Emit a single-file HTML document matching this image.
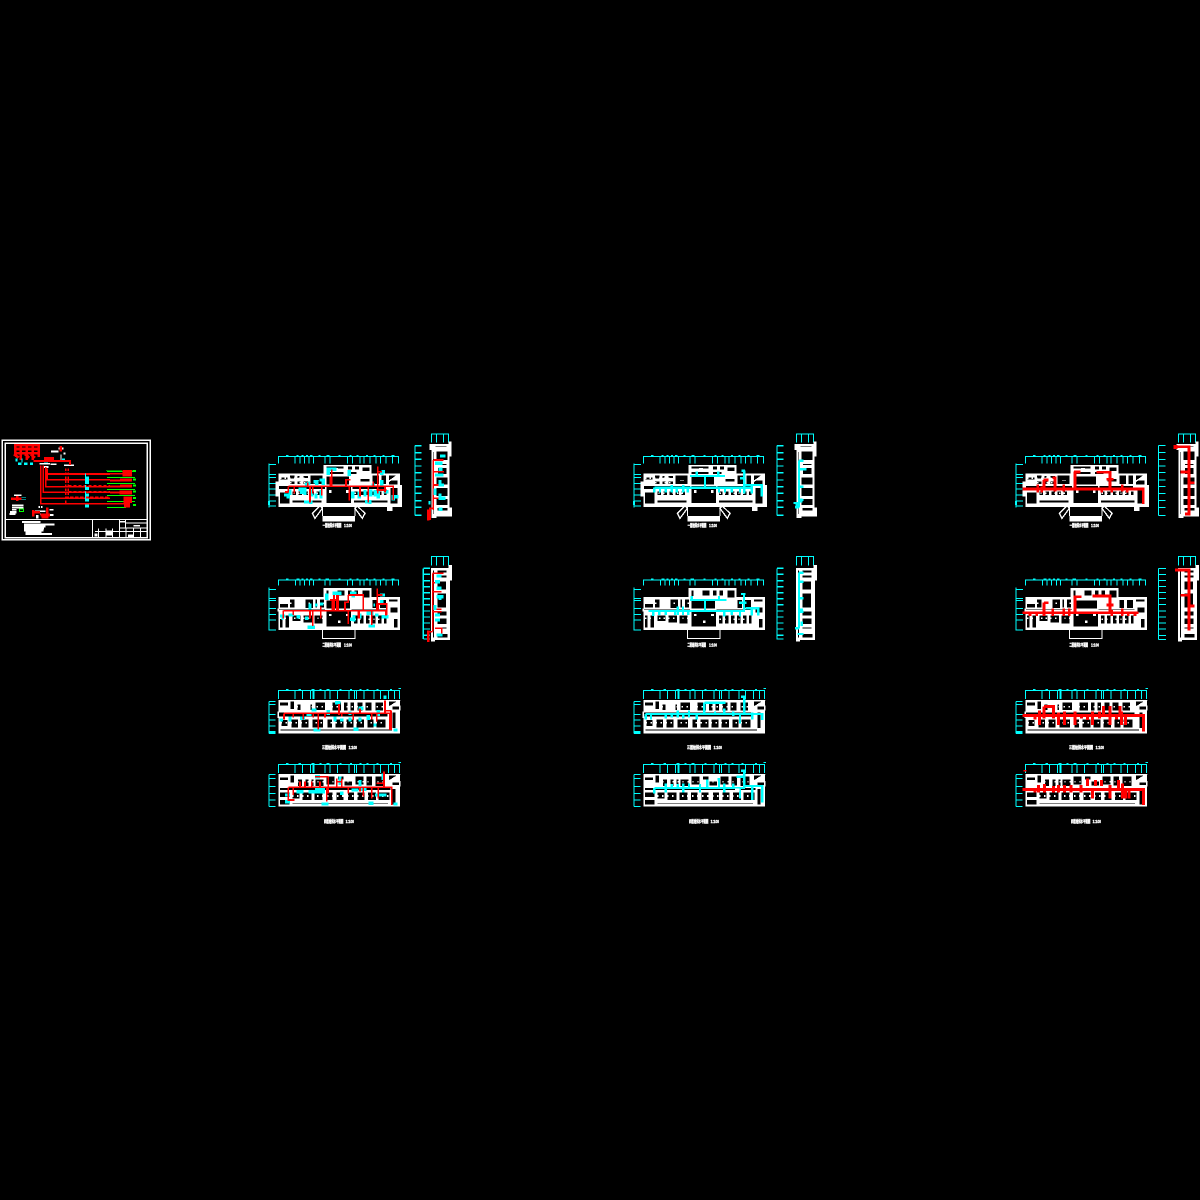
<!DOCTYPE html>
<html lang="zh">
<head>
<meta charset="utf-8">
<title>给排水施工图</title>
<style>
html,body{margin:0;padding:0;background:#000;width:1200px;height:1200px;overflow:hidden}
svg{display:block}
text{font-family:"Liberation Sans","Noto Sans CJK SC",sans-serif;font-weight:700;fill:#fff;stroke:#fff;stroke-width:1.2}
path[stroke="#f00"][stroke-width="3"]{stroke-width:5}
path[stroke="#f00"][stroke-width="5"]{stroke-width:8}
path[stroke="#f00"][stroke-width="6"]{stroke-width:9}
path[stroke="#0ff"][stroke-width="5"]{stroke-width:7}
path[stroke="#0ff"][stroke-width="6"]{stroke-width:10}
g[fill="#000"]{stroke:#fff;stroke-width:4}
</style>
</head>
<body>
<svg xmlns="http://www.w3.org/2000/svg" xmlns:xlink="http://www.w3.org/1999/xlink" width="1200" height="1200" viewBox="0 0 1200 1200" shape-rendering="crispEdges">
<defs>
<!-- ROW 1 WIDE PLAN -->
<g id="planA">
  <path d="M55 100V80H415V100M105 80V100M120 80V100M133 80V100M147 80V100M160 80V100M195 80V100M210 80V100M262 80V100M278 80V100M300 80V100M312 80V100M330 80V100M348 80V100M362 80V100M378 80V100M398 80V100M78 76H86M110 76H116M125 76H131M138 76H144M150 76H158M175 76H181M200 76H208M235 76H241M268 76H274M290 76H296M318 76H324M340 76H346M368 76H374M395 76H403" fill="none" stroke="#0ff" stroke-width="3"/>
  <path d="M27 100V232M27 103H48M27 133H48M27 142H48M27 160H48M27 177H48M27 195H48M27 213H48M27 228H48" fill="none" stroke="#0ff" stroke-width="3"/>
  <rect x="24" y="213" width="6" height="12" fill="#0ff"/>
  <path d="M55 130H190V105H335V130H420V165H426V231H398V243H381V231H55V200H46V154H55Z" fill="#fff"/>
  <g fill="#000">
    <rect x="150" y="134" width="40" height="30"/><rect x="60" y="140" width="25" height="10"/><rect x="88" y="135" width="17" height="12"/><rect x="88" y="152" width="17" height="12"/><rect x="110" y="136" width="10" height="10"/><rect x="110" y="152" width="14" height="12"/><rect x="128" y="136" width="18" height="10"/><rect x="128" y="152" width="18" height="12"/>
    <rect x="55" y="166" width="325" height="13"/>
    <rect x="58" y="185" width="33" height="38"/>
    <rect x="96" y="183" width="14" height="14"/><rect x="114" y="183" width="14" height="14"/><rect x="132" y="183" width="14" height="14"/><rect x="150" y="183" width="14" height="14"/><rect x="168" y="183" width="14" height="14"/>
    <rect x="96" y="210" width="90" height="10"/><rect x="96" y="197" width="3" height="13"/>
    <rect x="197" y="138" width="72" height="28"/><rect x="197" y="166" width="78" height="55"/>
    <rect x="197" y="108" width="56" height="10"/><rect x="197" y="124" width="56" height="10"/><rect x="262" y="108" width="16" height="12"/><rect x="283" y="108" width="16" height="12"/><rect x="305" y="110" width="25" height="15"/><rect x="262" y="124" width="30" height="10"/><rect x="300" y="145" width="30" height="12"/>
    <rect x="280" y="183" width="14" height="14"/><rect x="298" y="183" width="14" height="14"/><rect x="316" y="183" width="14" height="14"/><rect x="334" y="183" width="14" height="14"/><rect x="352" y="183" width="14" height="14"/><rect x="370" y="183" width="12" height="14"/>
    <rect x="280" y="210" width="104" height="10"/>
    <rect x="335" y="134" width="24" height="30"/><rect x="362" y="134" width="18" height="30"/><rect x="385" y="150" width="30" height="15"/><rect x="390" y="172" width="25" height="50"/>
    <path d="M385 134H415L385 155Z"/>
  </g>
  <g fill="#fff"><rect x="207" y="180" width="7" height="9"/><rect x="258" y="180" width="8" height="9"/><rect x="273" y="153" width="12" height="14"/><rect x="310" y="128" width="9" height="9"/><rect x="222" y="114" width="12" height="4"/><rect x="165" y="150" width="12" height="2"/></g>
  <path d="M100 190H182M284 190H382M60 145H146M90 158H146" stroke="#fff" stroke-width="5" stroke-dasharray="4 10"/>
  <path d="M157 250L180 228L187 235L165 265ZM315 250L292 228L285 235L307 265Z" fill="none" stroke="#fff" stroke-width="4"/>
  <rect x="187" y="258" width="98" height="17" fill="#fff"/>
  <path d="M187 228V258M285 228V258" stroke="#fff" stroke-width="3"/>
  <path d="M210 224H265" stroke="#fff" stroke-width="5" stroke-dasharray="3 3"/>
  <text x="188" y="291" font-size="13" textLength="56" lengthAdjust="spacingAndGlyphs">一层给排水平面图</text>
  <text x="252" y="291" font-size="13" textLength="24" lengthAdjust="spacingAndGlyphs">1:100</text>
</g>
<!-- ROW 1 TALL -->
<g id="tallA">
  <path d="M515 38V12H565V38M530 12V38M550 12V38" fill="none" stroke="#0ff" stroke-width="3"/>
  <path d="M510 42H566V35H575V80H568V232H576V260H530V264H515V60H508V44Z" fill="#fff"/>
  <g fill="#000">
    <rect x="527" y="62" width="38" height="30"/><rect x="532" y="100" width="30" height="7"/><rect x="532" y="112" width="30" height="22"/><rect x="527" y="140" width="38" height="26"/><rect x="527" y="172" width="38" height="28"/><rect x="527" y="205" width="38" height="22"/><rect x="530" y="232" width="35" height="12"/>
    <rect x="517" y="64" width="6" height="190"/>
    <rect x="524" y="46" width="38" height="6"/>
  </g>
</g>
<!-- ROW 2 WIDE -->
<g id="planB">
  <path d="M55 107V90H415V107M107 90V107M120 90V107M133 90V107M148 90V107M160 90V107M195 90V107M210 90V107M262 90V107M278 90V107M300 90V107M312 90V107M330 90V107M348 90V107M362 90V107M378 90V107M398 90V107M78 87H86M110 87H118M125 87H131M138 87H144M150 87H158M175 87H181M197 87H207M235 87H241M268 87H274M290 87H296M318 87H324M340 87H346M368 87H374M395 87H403" fill="none" stroke="#0ff" stroke-width="3"/>
  <path d="M27 113V241M27 118H48M27 145H48M27 151H48M27 175H48M27 193H48M27 210H48M27 240H48" fill="none" stroke="#0ff" stroke-width="3"/>
  <path d="M55 141H190V114H335V141H420V240H55Z" fill="#fff"/>
  <g fill="#000">
    <rect x="58" y="160" width="28" height="15"/><rect x="88" y="146" width="17" height="28"/><rect x="135" y="146" width="26" height="30"/><rect x="165" y="146" width="8" height="28"/><rect x="178" y="146" width="16" height="28"/>
    <rect x="55" y="177" width="330" height="5"/>
    <rect x="58" y="195" width="12" height="40"/><rect x="74" y="195" width="15" height="40"/><rect x="95" y="195" width="28" height="20"/><rect x="128" y="195" width="30" height="25"/><rect x="162" y="195" width="28" height="28"/>
    <rect x="197" y="150" width="75" height="28"/><rect x="197" y="182" width="78" height="50"/>
    <rect x="197" y="120" width="10" height="20"/><rect x="230" y="120" width="25" height="18"/><rect x="262" y="120" width="14" height="18"/><rect x="282" y="120" width="14" height="18"/><rect x="305" y="120" width="25" height="25"/>
    <rect x="280" y="195" width="14" height="28"/><rect x="298" y="195" width="14" height="28"/><rect x="316" y="195" width="14" height="28"/><rect x="334" y="195" width="14" height="28"/><rect x="352" y="195" width="14" height="28"/><rect x="370" y="195" width="12" height="28"/><rect x="400" y="205" width="15" height="30"/>
    <rect x="335" y="148" width="18" height="28"/><rect x="358" y="148" width="22" height="28"/><rect x="385" y="146" width="30" height="10"/><rect x="390" y="170" width="25" height="20"/>
  </g>
  <path d="M60 205H190M284 208H382M90 160H194" stroke="#fff" stroke-width="5" stroke-dasharray="4 10"/>
  <rect x="207" y="192" width="7" height="6" fill="#fff"/><rect x="258" y="192" width="9" height="6" fill="#fff"/><rect x="234" y="212" width="7" height="7" fill="#fff"/><rect x="273" y="155" width="25" height="24" fill="#fff"/>
  <path d="M187 240V265H285V240" fill="none" stroke="#fff" stroke-width="3"/>
  <text x="187" y="289" font-size="13" textLength="56" lengthAdjust="spacingAndGlyphs">二层给排水平面图</text>
  <text x="252" y="289" font-size="13" textLength="24" lengthAdjust="spacingAndGlyphs">1:100</text>
</g>
<!-- ROW 2 TALL -->
<g id="tallB">
  <path d="M515 46V20H565V46M530 20V46M550 20V46" fill="none" stroke="#0ff" stroke-width="3"/>
  <path d="M513 54H566V45H576V92H570V270H525V275H513Z" fill="#fff"/>
  <g fill="#000">
    <rect x="530" y="60" width="32" height="10"/><rect x="530" y="75" width="32" height="10"/><rect x="530" y="92" width="30" height="28"/><rect x="530" y="128" width="30" height="46"/><rect x="530" y="182" width="32" height="16"/><rect x="530" y="204" width="32" height="20"/><rect x="530" y="230" width="32" height="8"/><rect x="530" y="250" width="35" height="14"/>
    <rect x="517" y="60" width="7" height="205"/>
  </g>
</g>
<!-- ROW 3 WIDE -->
<g id="planC">
  <path d="M55 57V31H418V57M105 31V57M127 31V57M152 31V57M162 31V57M195 31V57M210 31V57M232 31V57M267 31V57M283 31V57M290 31V57M312 31V57M342 31V57M362 31V57M385 31V57M403 31V57M78 28H86M115 28H123M155 28H163M178 28H184M200 28H208M238 28H244M270 28H276M298 28H304M320 28H326M350 28H356M390 28H396M415 26H423" fill="none" stroke="#0ff" stroke-width="3"/>
  <rect x="158" y="31" width="5" height="26" fill="#0ff"/>
  <path d="M27 65V160M27 65H47M27 73H47M27 103H47M27 120H47M27 138H47M27 155H47M27 160H47" fill="none" stroke="#0ff" stroke-width="3"/>
  <rect x="27" y="155" width="20" height="6" fill="#0ff"/>
  <rect x="55" y="60" width="365" height="100" fill="#fff"/>
  <g fill="#000">
    <rect x="58" y="66" width="28" height="12"/><rect x="90" y="63" width="14" height="26"/>
    <rect x="110" y="72" width="14" height="20"/><rect x="150" y="72" width="8" height="20"/><rect x="165" y="66" width="32" height="26"/><rect x="215" y="66" width="30" height="28"/><rect x="250" y="66" width="14" height="28"/><rect x="270" y="66" width="14" height="28"/><rect x="290" y="66" width="20" height="28"/><rect x="315" y="66" width="22" height="28"/><rect x="345" y="66" width="26" height="28"/><rect x="395" y="78" width="24" height="12"/>
    <rect x="55" y="96" width="330" height="16"/>
    <rect x="62" y="118" width="22" height="22"/><rect x="92" y="116" width="24" height="28"/><rect x="122" y="116" width="26" height="28"/><rect x="155" y="116" width="36" height="28"/><rect x="200" y="116" width="18" height="28"/><rect x="224" y="116" width="28" height="28"/><rect x="258" y="116" width="24" height="28"/><rect x="288" y="116" width="26" height="28"/><rect x="320" y="116" width="22" height="28"/><rect x="348" y="116" width="30" height="28"/><rect x="396" y="96" width="12" height="50"/>
    <rect x="60" y="147" width="338" height="6"/>
    <path d="M385 63H416L385 82Z"/>
  </g>
  <path d="M62 128H378M110 80H372" stroke="#fff" stroke-width="5" stroke-dasharray="4 11"/>
  <text x="186" y="207" font-size="13" textLength="72" lengthAdjust="spacingAndGlyphs">三层给排水平面图</text>
  <text x="266" y="207" font-size="13" textLength="25" lengthAdjust="spacingAndGlyphs">1:100</text>
</g>
<!-- ROW 4 WIDE -->
<g id="planD">
  <path d="M55 279V253H418V279M105 253V279M127 253V279M152 253V279M162 253V279M195 253V279M210 253V279M232 253V279M267 253V279M283 253V279M290 253V279M312 253V279M342 253V279M362 253V279M385 253V279M403 253V279M78 250H86M115 250H123M155 250H163M178 250H184M200 250H208M238 250H244M270 250H276M298 250H304M320 250H326M350 250H356M390 250H396M415 248H423" fill="none" stroke="#0ff" stroke-width="3"/>
  <rect x="158" y="253" width="5" height="26" fill="#0ff"/>
  <path d="M27 283V380M27 283H47M27 295H47M27 320H47M27 340H47M27 360H47M27 379H47" fill="none" stroke="#0ff" stroke-width="3"/>
  <rect x="55" y="282" width="365" height="98" fill="#fff"/>
  <g fill="#000">
    <rect x="58" y="290" width="28" height="12"/><rect x="90" y="285" width="14" height="25"/><rect x="112" y="296" width="16" height="24"/><rect x="135" y="296" width="12" height="24"/><rect x="152" y="296" width="10" height="24"/><rect x="165" y="296" width="28" height="24"/><rect x="198" y="288" width="28" height="28"/><rect x="232" y="288" width="20" height="12"/><rect x="252" y="303" width="26" height="15"/><rect x="285" y="288" width="28" height="28"/><rect x="318" y="288" width="20" height="30"/><rect x="345" y="288" width="30" height="32"/><rect x="395" y="305" width="24" height="12"/>
    <rect x="58" y="322" width="335" height="10"/>
    <rect x="58" y="335" width="32" height="18"/><rect x="58" y="358" width="32" height="18"/><rect x="96" y="336" width="24" height="22"/><rect x="125" y="336" width="32" height="26"/><rect x="162" y="336" width="28" height="26"/><rect x="196" y="336" width="24" height="26"/><rect x="228" y="336" width="24" height="26"/><rect x="262" y="336" width="22" height="26"/><rect x="290" y="336" width="26" height="26"/><rect x="322" y="336" width="28" height="26"/><rect x="354" y="336" width="36" height="26"/><rect x="396" y="325" width="12" height="50"/>
    <rect x="96" y="367" width="290" height="6"/>
    <path d="M385 285H416L385 304Z"/>
  </g>
  <path d="M96 348H390M112 305H375" stroke="#fff" stroke-width="5" stroke-dasharray="4 11"/>
  <text x="192" y="429" font-size="13" textLength="58" lengthAdjust="spacingAndGlyphs">四层给排水平面图</text>
  <text x="257" y="429" font-size="13" textLength="25" lengthAdjust="spacingAndGlyphs">1:100</text>
</g>
</defs>

<rect width="1200" height="1200" fill="#000"/>

<!-- LEFT SHEET -->
<g transform="translate(0,435) scale(.33333)">
  <rect x="7" y="16" width="444" height="298" fill="none" stroke="#fff" stroke-width="4"/>
  <rect x="16" y="25" width="426" height="283" fill="none" stroke="#fff" stroke-width="4"/>
  <path d="M17 253H442M277 253V307M358 254V307M358 279H442M377 254V280M378 264H442M285 290H442M295 280V307M318 280V307M338 280V307M378 280V307M400 280V307M422 280V307" fill="none" stroke="#fff" stroke-width="3"/>
  <g fill="#fff"><rect x="320" y="287" width="16" height="14"/><rect x="400" y="270" width="20" height="5"/><rect x="360" y="258" width="15" height="4"/><rect x="384" y="298" width="16" height="8"/><rect x="284" y="296" width="8" height="8"/></g>
  <g fill="#fff"><rect x="66" y="258" width="56" height="6"/><rect x="72" y="266" width="92" height="5"/><rect x="72" y="272" width="65" height="5"/><rect x="72" y="278" width="60" height="5"/><rect x="72" y="284" width="58" height="5"/><rect x="76" y="290" width="48" height="4"/><rect x="76" y="294" width="80" height="6"/></g>
  <path d="M46 31H116V55H46ZM46 42H116M62 31V55M80 31V55M98 31V55M116 55V66M62 55V75M80 55V75M98 55V75" fill="none" stroke="#f00" stroke-width="5"/>
  <path d="M42 58L56 68M75 58L88 68M92 58L105 68" stroke="#f00" stroke-width="5"/>
  <g fill="#0ff"><rect x="47" y="70" width="5" height="10"/><rect x="54" y="82" width="10" height="8"/><rect x="72" y="82" width="10" height="8"/><rect x="90" y="82" width="9" height="8"/><rect x="64" y="70" width="4" height="12"/><rect x="132" y="70" width="12" height="12"/><rect x="186" y="70" width="9" height="6"/></g>
  <path d="M153 50H175M190 55H197M175 40H190" stroke="#fff" stroke-width="6"/>
  <path d="M183 58V78" stroke="#fff" stroke-width="3"/>
  <path d="M182 33V50" stroke="#f00" stroke-width="5"/>
  <rect x="132" y="66" width="30" height="15" fill="#f00"/>
  <path d="M118 86H150M152 88H170M192 91H222M130 96H146" stroke="#fff" stroke-width="5"/>
  <path d="M100 78H210V90M122 92V206H370M130 92V172H330M137 96V155H330M142 100V134H330M142 117H330M122 190H330" fill="none" stroke="#f00" stroke-width="3"/>
  <path d="M197 100V205M205 100V190" stroke="#f00" stroke-width="4" stroke-dasharray="8 4"/>
  <path d="M213 116H330M205 134H320M205 152H330M205 170H330M195 186H330" stroke="#f00" stroke-width="4" stroke-dasharray="10 5"/>
  <path d="M257 115V145M257 150V165M257 170V195" stroke="#0ff" stroke-width="3"/>
  <g fill="#0ff"><rect x="255" y="125" width="12" height="22"/><rect x="255" y="156" width="12" height="9"/><rect x="255" y="176" width="12" height="8"/><rect x="255" y="190" width="12" height="10"/><rect x="255" y="208" width="12" height="10"/></g>
  <path d="M320 106H405" stroke="#0f0" stroke-width="3" stroke-dasharray="3 3"/>
  <path d="M321 110H405M321 127H405M321 145H405M321 163H405M321 181H405M321 199H405M321 217H378" stroke="#0f0" stroke-width="3"/>
  <g fill="#0f0"><rect x="399" y="105" width="9" height="6"/><rect x="399" y="131" width="9" height="6"/><rect x="399" y="149" width="9" height="6"/><rect x="399" y="167" width="9" height="6"/><rect x="399" y="186" width="9" height="6"/><rect x="399" y="207" width="9" height="6"/></g>
  <g fill="#f00"><rect x="368" y="105" width="28" height="20"/><rect x="360" y="130" width="36" height="10"/><rect x="360" y="148" width="36" height="10"/><rect x="358" y="166" width="38" height="12"/><rect x="370" y="184" width="26" height="20"/><rect x="372" y="204" width="18" height="14"/><rect x="330" y="114" width="38" height="5"/><rect x="330" y="134" width="30" height="5"/><rect x="330" y="152" width="30" height="5"/><rect x="330" y="170" width="30" height="5"/><rect x="330" y="204" width="42" height="5"/></g>
  <g fill="#fff"><rect x="42" y="178" width="22" height="5"/><rect x="36" y="208" width="34" height="5"/><rect x="36" y="215" width="34" height="5"/><rect x="30" y="228" width="20" height="8"/><rect x="36" y="222" width="14" height="4"/><rect x="28" y="234" width="18" height="6"/><rect x="116" y="213" width="4" height="6"/><rect x="123" y="213" width="4" height="6"/><rect x="105" y="226" width="32" height="5"/><rect x="108" y="240" width="8" height="10"/><rect x="148" y="222" width="12" height="5"/><rect x="148" y="237" width="12" height="6"/><rect x="120" y="235" width="25" height="4"/></g>
  <path d="M33 191H65M52 183V198M100 225V245M100 232H120M142 217V240M125 246H145M122 240H150" stroke="#f00" stroke-width="5"/>
  <path d="M65 187H78M65 193H78" stroke="#0ff" stroke-width="2"/>
  <rect x="58" y="222" width="12" height="8" fill="none" stroke="#0f0" stroke-width="3"/>
</g>

<!-- COLUMN 1 -->
<g transform="translate(260,430) scale(.33333)">
  <use xlink:href="#planA" href="#planA"/>
  <path d="M465 47V257M465 47H485M465 68H485M465 88H485M465 108H485M465 128H485M465 150H485M465 170H485M465 190H485M465 212H485M465 232H485M465 256H485" fill="none" stroke="#0ff" stroke-width="4"/>
  <use xlink:href="#tallA" href="#tallA"/>
  <path d="M135 165L150 158M160 155H170V165M178 150H190V165M115 178H135V195M90 178V195M125 178V192M155 178V200M168 190V205M183 180V205M132 216H152V222M200 118H230M205 118V135M268 120V138M365 125H375M365 125V135M340 160V170M365 150V168M278 185V205M298 185V205M315 180V200M332 178V200M345 180V200M355 182V205M370 185H385M315 215H330V222M395 200H415M72 195H85V205M400 205V212" fill="none" stroke="#0ff" stroke-width="6"/>
  <path d="M85 169H400V210M215 118V169M258 169V149H272M353 110V190M353 125H366M85 169V188M103 169V190M150 169V218M158 169V190M185 169V196M268 169V212M300 169V200M325 169V218M375 169V188M340 155V169M143 158V169M75 186H85M350 180H380" fill="none" stroke="#f00" stroke-width="3"/>
  <path d="M213 140V168" stroke="#f00" stroke-width="6"/>
  <path d="M520 90V240M520 90H550M520 125H552M520 165H545M520 205H545M520 235H510V270M503 238V272" fill="none" stroke="#f00" stroke-width="3"/>
  <rect x="501" y="238" width="7" height="34" fill="#f00"/>
  <path d="M525 100H548M540 78H556M535 118H548M525 135H550M540 150V165H552M525 175V195M540 190V205H556M535 238H548M505 218H512" fill="none" stroke="#0ff" stroke-width="6"/>
</g>
<g transform="translate(260,550) scale(.33333)">
  <use xlink:href="#planB" href="#planB"/>
  <path d="M490 55H510M490 55V267M490 73H510M490 92H510M490 110H510M490 128H510M490 146H510M490 164H510M490 183H510M490 201H510M490 219H510M490 237H510M490 256H510M490 267H510" fill="none" stroke="#0ff" stroke-width="4"/>
  <use xlink:href="#tallB" href="#tallB"/>
  <path d="M60 198H75M85 195H100M65 205H70M115 195V205M135 205H145M145 165H155M165 165H172M180 162H190M150 170V178M143 232H165M200 130V150M218 130H245M270 130H290M280 125V142M270 208H282M282 195V215M300 190V205M320 190H340M325 228H345M345 195H355M365 200H385M340 165H345M360 135H375M365 150V162" fill="none" stroke="#0ff" stroke-width="6"/>
  <path d="M70 182H380M70 182V205M100 182V195M150 182V205M158 182V228M182 170V205M210 150H235V182M235 135V182M222 135V182M255 182V157H265V135M265 135H310V150M265 182V222M295 182V205M310 150V182M335 182V225M352 115V162M352 135H368M352 162H380V195M298 182V205M378 182V196" fill="none" stroke="#f00" stroke-width="3"/>
  <path d="M219 150V182M232 135V182M353 160V182" stroke="#f00" stroke-width="6"/>
  <path d="M518 70V245M518 70H550M518 98H535M518 125H545M518 178H545M518 185H545M505 245H518M505 245V275M525 235H545V250" fill="none" stroke="#f00" stroke-width="3"/>
  <rect x="501" y="242" width="7" height="34" fill="#f00"/>
  <path d="M530 78H545M525 95H540M530 115H545M540 135V150M530 140H550M525 165V180M525 195H540M530 255H548M525 210H540" fill="none" stroke="#0ff" stroke-width="6"/>
</g>
<g transform="translate(260,680) scale(.33333)">
  <use xlink:href="#planC" href="#planC"/><use xlink:href="#planD" href="#planD"/>
  <path d="M64 115V125M90 110V125M120 115H135M140 103H155M155 90H170M160 150H182M225 68H242M205 90V105M225 110V125M245 115V125M270 95V105M270 112V125M295 85H310M300 112V125M280 148H295M325 105V120M340 135H350M355 90V108M370 52H380M400 150H412M75 345H90M75 365H90M110 335H130M145 335H195M165 290H180M240 290V315M275 330H295M300 300V318M300 328H320M325 370H340M345 345H380M370 280V300M400 372H412M245 335V345M185 372H205M165 325H195" fill="none" stroke="#0ff" stroke-width="6"/>
  <path d="M72 100H390V150M72 100V118M100 100V112M130 100V118M160 100V112M175 100V148M195 100V112M237 72V105M245 100V110M280 100V120M300 85V100M335 100V118M350 100V125M375 62V100M393 92V150M375 92H393" fill="none" stroke="#f00" stroke-width="3"/>
  <path d="M85 322H395V375M85 322V360H103M100 322V345M120 305V322M135 305V322M155 305V322M180 305V322M205 290V340M165 290H205M200 322V365M230 295V322M245 295V320M230 305H245M265 322V340M310 322V350M335 322V355M355 322V355M372 275V322M372 322H395M350 310H372M300 322V335" fill="none" stroke="#f00" stroke-width="3"/>
</g>

<!-- COLUMN 2 -->
<g transform="translate(625,430) scale(.33333)">
  <use xlink:href="#planA" href="#planA"/>
  <path d="M456 47V257M456 47H476M456 68H476M456 88H476M456 108H476M456 128H476M456 150H476M456 170H476M456 190H476M456 212H476M456 232H476M456 256H476" fill="none" stroke="#0ff" stroke-width="4"/>
  <use xlink:href="#tallA" href="#tallA"/>
  <path d="M88 173H380M195 138H300M240 138V173M215 125V138M280 125V138M358 122V190M350 122H360M345 145H358M360 165H410V200M380 165V190M88 173V188M105 173V188M122 173V188M140 165V188M155 173V188M175 165V188M188 173V188M282 173V188M300 173V188M320 173V188M345 173V188" fill="none" stroke="#0ff" stroke-width="5"/>
  <path d="M522 92V232M522 92H535M522 118H545M522 170H535M522 210H535M522 232H510M505 219H515V228" fill="none" stroke="#0ff" stroke-width="5"/>
  <rect x="522" y="205" width="10" height="12" fill="#0ff"/>
</g>
<g transform="translate(625,550) scale(.33333)">
  <use xlink:href="#planB" href="#planB"/>
  <path d="M456 55H476M456 55V268M456 73H476M456 92H476M456 110H476M456 128H476M456 146H476M456 164H476M456 183H476M456 201H476M456 219H476M456 237H476M456 256H476M456 267H476" fill="none" stroke="#0ff" stroke-width="4"/>
  <use xlink:href="#tallB" href="#tallB"/>
  <path d="M70 183H360M195 150H305M240 150V183M200 138V150M282 138V150M357 132V183M348 132H362M342 158H365M362 175H400V197M380 175V197M85 183V198M103 183V195M122 183V195M150 183V195M158 170V195M174 170V195M190 183V195M298 183V200M320 183V195M345 183V200" fill="none" stroke="#0ff" stroke-width="5"/>
  <path d="M522 68V235M522 68H535M522 95H535M522 145H535M522 185H535M522 235H510M518 252H536M530 215V228" fill="none" stroke="#0ff" stroke-width="5"/>
  <rect x="522" y="175" width="12" height="14" fill="#0ff"/>
</g>
<g transform="translate(625,680) scale(.33333)">
  <use xlink:href="#planC" href="#planC"/><use xlink:href="#planD" href="#planD"/>
  <path d="M62 102H412V120M62 102V118M78 102V118M122 102V115M140 102V112M158 92V112M175 102V115M192 92V112M215 102V118M238 68H302M238 68V102M270 95V102M298 85V102M325 95V108M345 102V130M358 50V102M348 50H362M382 98V118" fill="none" stroke="#0ff" stroke-width="5"/>
  <path d="M88 324H360M88 324V340M122 310V338M140 312V324M158 312V324M175 310V338M192 310V324M225 312V338M247 298V324M278 298H282V324M298 310V338M325 310V324M345 324V355M358 272V324M348 272H362M335 290H358M360 318H412V368M382 318V360" fill="none" stroke="#0ff" stroke-width="5"/>
  <rect x="330" y="325" width="14" height="10" fill="#fff"/>
</g>

<!-- COLUMN 3 -->
<g transform="translate(1007,430) scale(.33333)">
  <use xlink:href="#planA" href="#planA"/>
  <use xlink:href="#tallA" href="#tallA"/>
</g>
<g transform="translate(1005,430) scale(.33333)">
  <path d="M460 47V257M460 47H482M460 68H482M460 88H482M460 108H482M460 128H482M460 150H482M460 170H482M460 190H482M460 212H482M460 232H482M460 256H482" fill="none" stroke="#0ff" stroke-width="3"/>
  <path d="M52 177H415V222M210 125V177M207 126H226M275 127H315V177M305 148H325M115 150H130M117 150V177M142 143H150V185M176 163V185M98 163V188M110 170V188M352 163V185M367 172V188M290 172V188M320 172V188" fill="none" stroke="#f00" stroke-width="5"/>
  <path d="M505 50H552V252H540M527 126H552M552 158H568" fill="none" stroke="#f00" stroke-width="5"/>
  <rect x="505" y="45" width="12" height="12" fill="#f00"/>
</g>
<g transform="translate(1007,550) scale(.33333)">
  <use xlink:href="#planB" href="#planB"/>
  <use xlink:href="#tallB" href="#tallB"/>
</g>
<g transform="translate(1005,550) scale(.33333)">
  <path d="M460 55V268M460 55H483M460 73H483M460 92H483M460 110H483M460 128H483M460 146H483M460 164H483M460 183H483M460 201H483M460 219H483M460 237H483M460 256H483M460 268H483" fill="none" stroke="#0ff" stroke-width="3"/>
  <path d="M52 188H400M210 138V188M205 140H230M262 138H315V188M305 165H325M117 158H130M117 158V198M143 176V198M176 176V198M193 176V198M75 188V198M95 188V198M352 176V198M370 188V198M390 188V198M320 180V198" fill="none" stroke="#f00" stroke-width="5"/>
  <path d="M510 60H552V242M527 136H552M552 168H568" fill="none" stroke="#f00" stroke-width="5"/>
  <rect x="282" y="155" width="16" height="18" fill="#fff"/>
</g>
<g transform="translate(1007,680) scale(.33333)">
  <use xlink:href="#planC" href="#planC"/><use xlink:href="#planD" href="#planD"/>
</g>
<g transform="translate(1005,680) scale(.33333)">
  <path d="M52 107H415V155M103 92V135M117 80V115M117 80H150M145 80V115M160 98V135M178 95V135M210 95V135M248 102V120M262 95V135M283 95V115M295 78V107M315 78V135M345 78V107M350 95V135M362 107V135M90 107V118M230 107V115M335 107V118" fill="none" stroke="#f00" stroke-width="6"/>
  <path d="M52 329H415V375M100 315V338M118 312V338M145 318V338M160 315V338M178 315V338M198 315V338M228 315V338M248 295V318M262 329V355M272 300V318M290 300V318M315 315V355M340 300V329M352 310V355M362 329V355M372 329V355M90 329V338M60 270V274" fill="none" stroke="#f00" stroke-width="6"/>
</g>
</svg>
</body>
</html>
